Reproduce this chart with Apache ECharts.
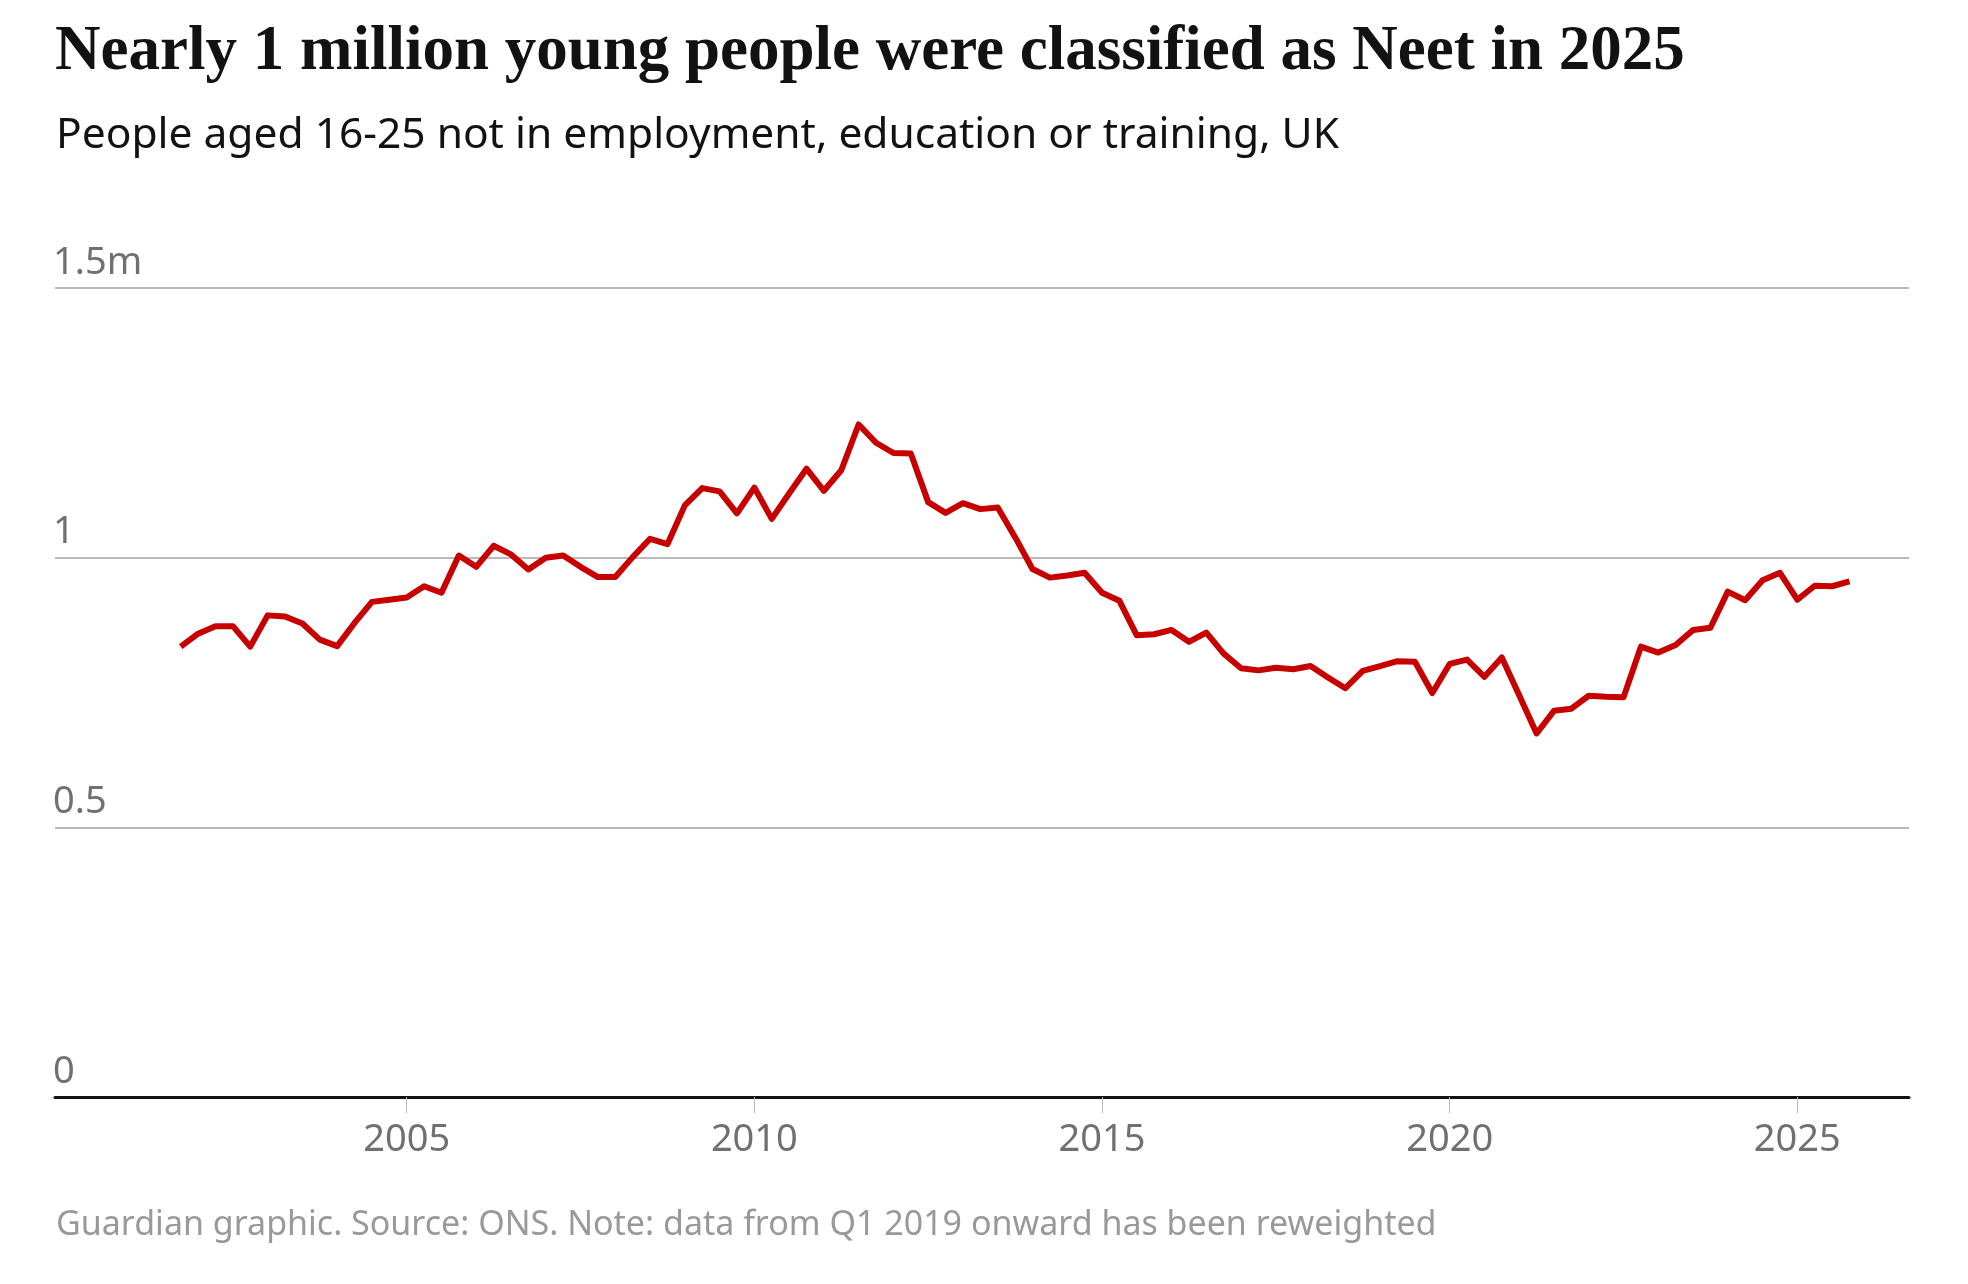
<!DOCTYPE html>
<html>
<head>
<meta charset="utf-8">
<title>Neet chart</title>
<script src="https://cdn.jsdelivr.net/npm/echarts@6/dist/echarts.min.js"></script>
<style>
  html, body { margin: 0; padding: 0; background: #fff; }
  #neetChart { width: 1968px; height: 1284px; }
</style>
</head>
<body>
<div id="neetChart"></div>
<script>
// quarterly, first point is Oct-Dec 2001, last is Oct-Dec 2025
const firstQuarter = 2001.75
const neetMillions = [
  0.835, 0.859, 0.873, 0.873, 0.835, 0.893, 0.891, 0.878, 0.848, 0.836,
  0.879, 0.918, 0.922, 0.926, 0.947, 0.935, 1.004, 0.983, 1.022, 1.006,
  0.978, 1.000, 1.004, 0.983, 0.964, 0.964, 1.001, 1.035, 1.025, 1.097,
  1.129, 1.123, 1.082, 1.130, 1.072, 1.119, 1.165, 1.124, 1.162, 1.247,
  1.213, 1.194, 1.193, 1.103, 1.083, 1.101, 1.090, 1.093, 1.038, 0.979,
  0.963, 0.967, 0.972, 0.935, 0.920, 0.856, 0.858, 0.866, 0.844, 0.861,
  0.822, 0.795, 0.791, 0.796, 0.793, 0.799, 0.778, 0.758, 0.790, 0.799,
  0.808, 0.807, 0.749, 0.803, 0.811, 0.779, 0.815, 0.745, 0.674, 0.716,
  0.720, 0.744, 0.742, 0.741, 0.835, 0.824, 0.838, 0.866, 0.870, 0.937,
  0.921, 0.958, 0.972, 0.922, 0.948, 0.947, 0.956
]
const yearTicks = [2005, 2010, 2015, 2020, 2025]
const yTicks = [0, 0.5, 1, 1.5]

const TEXT_FONT = '"Noto Sans", "Open Sans", sans-serif'
const LABEL_GREY = '#707070'

const seriesData = neetMillions.map((v, i) => [firstQuarter + i * 0.25, v])

const myChart = echarts.init(document.getElementById('neetChart'), null, { renderer: 'canvas' })

myChart.setOption({
  animation: false,
  backgroundColor: '#fff',
  title: [
    {
      text: 'Nearly 1 million young people were classified as Neet in 2025',
      left: 50,
      top: 15,
      textStyle: {
        fontFamily: '"Liberation Serif", serif',
        fontWeight: 'bold',
        fontSize: 63,
        lineHeight: 66,
        color: '#121212'
      }
    },
    {
      text: 'People aged 16-25 not in employment, education or training, UK',
      left: 51,
      top: 106,
      textStyle: {
        fontFamily: TEXT_FONT,
        fontWeight: 'normal',
        fontSize: 42.5,
        lineHeight: 50,
        color: '#121212'
      }
    },
    {
      text: 'Guardian graphic. Source: ONS. Note: data from Q1 2019 onward has been reweighted',
      left: 51,
      top: 1198,
      textStyle: {
        fontFamily: TEXT_FONT,
        fontWeight: 'normal',
        fontSize: 34,
        lineHeight: 44,
        color: '#999999'
      }
    }
  ],
  grid: {
    left: 55,
    right: 59,
    top: 288,
    bottom: 187,
    containLabel: false
  },
  xAxis: {
    type: 'value',
    min: 1999.942,
    max: 2026.606,
    axisLine: {
      show: true,
      onZero: false,
      lineStyle: { color: '#121212', width: 3 }
    },
    axisTick: {
      show: true,
      customValues: yearTicks,
      length: 16,
      lineStyle: { color: '#bbbbbb', width: 1 }
    },
    axisLabel: {
      customValues: yearTicks,
      margin: 24,
      fontFamily: TEXT_FONT,
      fontSize: 38,
      color: LABEL_GREY,
      formatter: v => String(v)
    },
    splitLine: { show: false }
  },
  yAxis: {
    type: 'value',
    min: 0,
    max: 1.5,
    interval: 0.5,
    axisLine: { show: false },
    axisTick: { show: false },
    axisLabel: {
      inside: true,
      margin: -2,
      verticalAlign: 'bottom',
      align: 'left',
      padding: [0, 0, 6, 0],
      fontFamily: TEXT_FONT,
      fontSize: 38,
      color: LABEL_GREY,
      formatter: v => {
        if (v === 1.5) return '1.5m'
        return yTicks.indexOf(v) > -1 ? String(v) : ''
      }
    },
    splitLine: {
      show: true,
      lineStyle: { color: '#bababa', width: 2 }
    }
  },
  series: [
    {
      name: 'Neet',
      type: 'line',
      data: seriesData,
      symbol: 'none',
      z: 3,
      lineStyle: {
        color: '#c70000',
        width: 6,
        join: 'round'
      }
    }
  ]
})
</script>
</body>
</html>
